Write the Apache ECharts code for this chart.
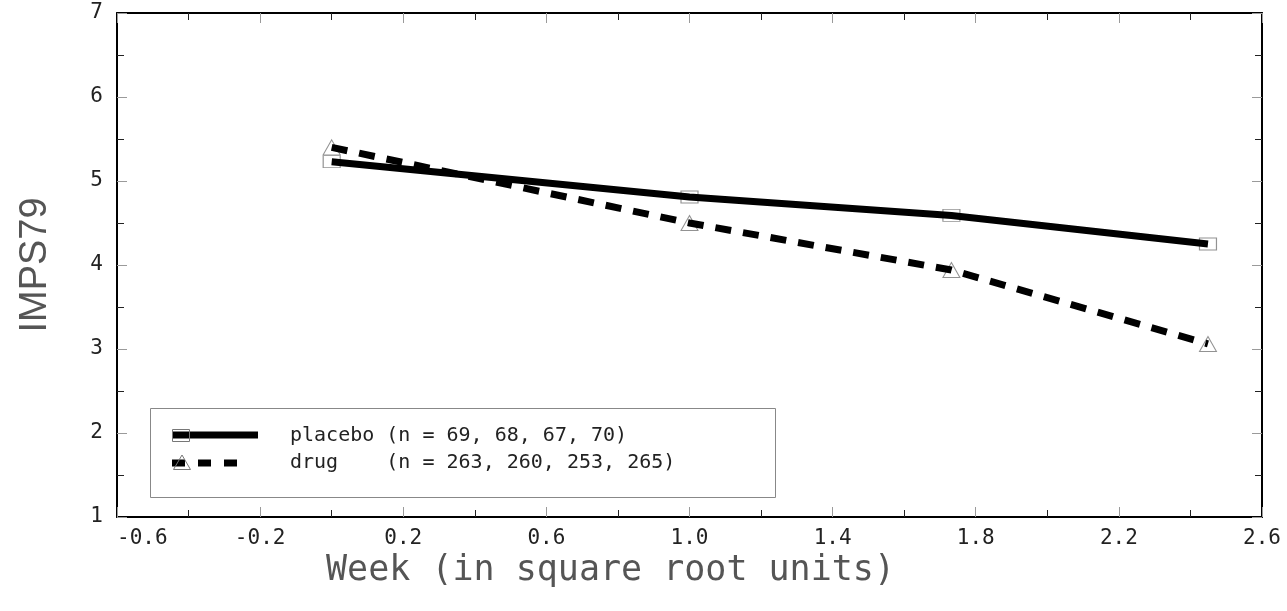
<!DOCTYPE html>
<html>
<head>
<meta charset="utf-8">
<script src="https://cdn.jsdelivr.net/npm/echarts@6/dist/echarts.min.js"></script>
<style>
html,body{margin:0;padding:0;background:#fff;}
#chart{width:1287px;height:611px;}
</style>
</head>
<body>
<div id="chart"></div>
<script>
// ---- data ----
const weeksSqrt = [0, 1.0, 1.732, 2.449];
const placeboValues = [5.23, 4.81, 4.59, 4.25];
const drugValues = [5.40, 4.50, 3.94, 3.06];
const seriesNames = ['placebo (n = 69, 68, 67, 70)', 'drug    (n = 263, 260, 253, 265)'];
const xTitle = 'Week (in square root units)';
const yTitle = 'IMPS79';

const MONO = '"DejaVu Sans Mono", monospace';

function pairs(xs, ys) { return xs.map((x, i) => [x, ys[i]]); }

const tickCommon = {
  axisLine: { show: true, onZero: false, lineStyle: { color: '#000', width: 2 } },
  axisTick: { show: true, inside: true, length: 10, lineStyle: { color: '#9a9a9a', width: 1 } },
  minorTick: { show: true, splitNumber: 2, length: 7, lineStyle: { color: '#222', width: 1 } },
  splitLine: { show: false },
  minorSplitLine: { show: false }
};

const chart = echarts.init(document.getElementById('chart'), null, { renderer: 'canvas' });

const option = {
  animation: false,
  backgroundColor: '#fff',
  grid: { left: 117, right: 25, top: 13, bottom: 94, containLabel: false },
  xAxis: [
    Object.assign({
      type: 'value', position: 'bottom', min: -0.6, max: 2.6, interval: 0.4,
      name: xTitle, nameLocation: 'middle', nameGap: 26,
      nameTextStyle: { fontFamily: MONO, fontSize: 35, color: '#555', padding: [0, 158, 0, 0] },
      axisLabel: {
        show: true, margin: 11, fontFamily: MONO, fontSize: 21, color: '#222',
        alignMinLabel: 'left',
        formatter: v => (Math.round(v * 10) / 10).toFixed(1)
      }
    }, tickCommon),
    Object.assign({
      type: 'value', position: 'top', min: -0.6, max: 2.6, interval: 0.4,
      axisLabel: { show: false }
    }, tickCommon)
  ],
  yAxis: [
    Object.assign({
      type: 'value', position: 'left', min: 1, max: 7, interval: 1,
      name: yTitle, nameLocation: 'middle', nameGap: 62, nameRotate: 90,
      nameTextStyle: { fontFamily: '"Liberation Sans", sans-serif', fontSize: 38, color: '#555' },
      axisLabel: { show: true, margin: 14, fontFamily: MONO, fontSize: 21, color: '#222' }
    }, tickCommon),
    Object.assign({
      type: 'value', position: 'right', min: 1, max: 7, interval: 1,
      axisLabel: { show: false }
    }, tickCommon)
  ],
  series: [
    {
      name: seriesNames[0] + ' markers', type: 'scatter', z: 1,
      symbol: 'rect', symbolSize: [17, 12],
      itemStyle: { color: 'rgba(0,0,0,0)', borderColor: '#777', borderWidth: 1 },
      data: pairs(weeksSqrt, placeboValues)
    },
    {
      name: seriesNames[1] + ' markers', type: 'scatter', z: 1,
      symbol: 'triangle', symbolSize: [17, 15],
      itemStyle: { color: 'rgba(0,0,0,0)', borderColor: '#777', borderWidth: 1 },
      data: pairs(weeksSqrt, drugValues)
    },
    {
      name: seriesNames[0], type: 'line', z: 3, showSymbol: false, symbol: 'none',
      lineStyle: { color: '#000', width: 7, cap: 'butt' },
      data: pairs(weeksSqrt, placeboValues)
    },
    {
      name: seriesNames[1], type: 'line', z: 3, showSymbol: false, symbol: 'none',
      lineStyle: { color: '#000', width: 7, type: [16, 12], cap: 'butt' },
      data: pairs(weeksSqrt, drugValues)
    }
  ],
  graphic: [
    { type: 'rect', shape: { x: 150.5, y: 408.5, width: 625, height: 89 },
      style: { fill: '#fff', stroke: '#888', lineWidth: 1 }, z: 10 },
    // placebo sample
    { type: 'line', shape: { x1: 172, y1: 435, x2: 258, y2: 435 },
      style: { stroke: '#000', lineWidth: 7 }, z: 11 },
    { type: 'rect', shape: { x: 172.5, y: 429.5, width: 17, height: 12 },
      style: { fill: 'none', stroke: '#777', lineWidth: 1 }, z: 12 },
    { type: 'text', x: 290, y: 436, z: 11,
      style: { text: seriesNames[0], fontFamily: MONO, fontSize: 20, fill: '#222', verticalAlign: 'middle' } },
    // drug sample
    { type: 'line', shape: { x1: 172, y1: 463, x2: 240, y2: 463 },
      style: { stroke: '#000', lineWidth: 7, lineDash: [13, 13] }, z: 11 },
    { type: 'polygon', shape: { points: [[182, 455], [173.5, 469.5], [190.5, 469.5]] },
      style: { fill: 'none', stroke: '#777', lineWidth: 1 }, z: 12 },
    { type: 'text', x: 290, y: 463, z: 11,
      style: { text: seriesNames[1], fontFamily: MONO, fontSize: 20, fill: '#222', verticalAlign: 'middle' } }
  ]
};

chart.setOption(option);
</script>
</body>
</html>
